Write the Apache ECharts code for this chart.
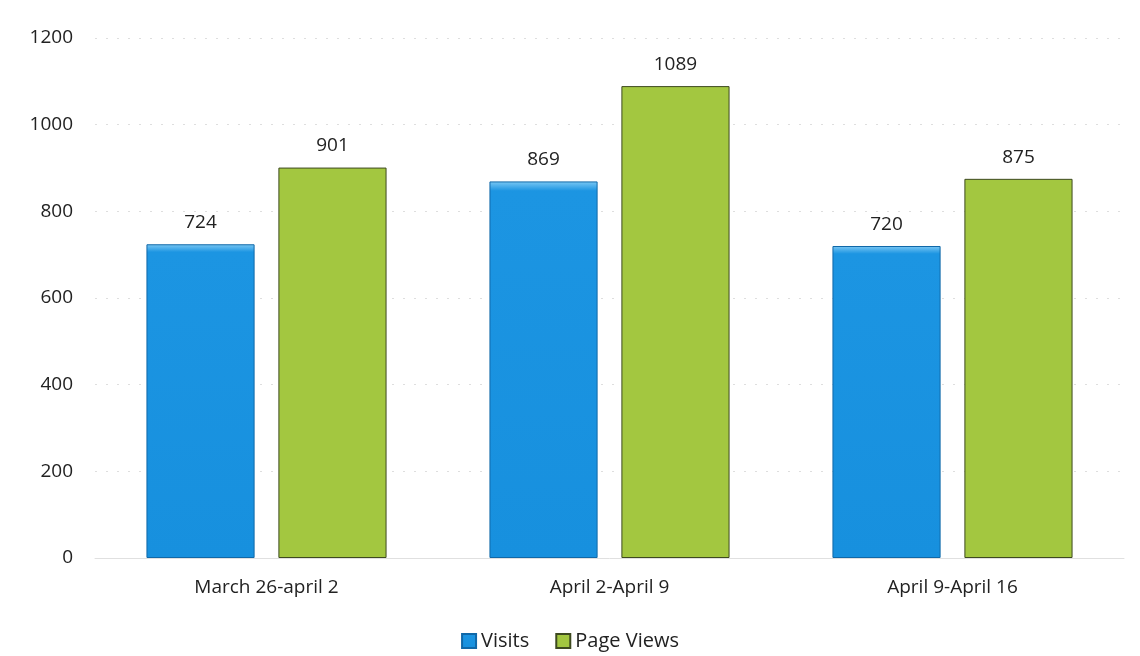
<!DOCTYPE html>
<html>
<head>
<meta charset="utf-8">
<script src="https://cdn.jsdelivr.net/npm/echarts@6/dist/echarts.min.js"></script>
<style>
  html, body { margin: 0; padding: 0; background: #fff; }
  #chart { width: 1140px; height: 656px; }
</style>
</head>
<body>
<div id="chart"></div>
<script>
// 数据
const categories = ["March 26-april 2", "April 2-April 9", "April 9-April 16"];
const visits = [724, 869, 720];
const pageViews = [901, 1089, 875];
const seriesNames = ["Visits", "Page Views"];

const font = "'Open Sans', 'Noto Sans', sans-serif";

const chart = echarts.init(document.getElementById("chart"));

const options = {
  animation: false,
  textStyle: { fontFamily: font },
  grid: {
    top: 38,
    left: 95,
    right: 16,
    bottom: 98,
  },
  legend: {
    bottom: 0,
    left: "center",
    data: seriesNames,
    itemWidth: 14,
    itemHeight: 14,
    itemGap: 26,
    icon: "rect",
    textStyle: { fontSize: 20, color: "#222", fontFamily: font },
  },
  xAxis: {
    type: "category",
    data: categories,
    axisTick: { show: false },
    axisLine: { lineStyle: { color: "#e0e0e0" } },
    axisLabel: { fontSize: 19, color: "#222", margin: 20 },
  },
  yAxis: {
    type: "value",
    min: 0,
    max: 1200,
    interval: 200,
    axisLabel: {
      fontSize: 19,
      color: "#222",
      margin: 22,
      formatter: (v) => String(v), // 不加千分位
    },
    splitLine: {
      lineStyle: { color: "#dedede", type: [2, 9] },
    },
  },
  series: [
    {
      name: seriesNames[0],
      type: "bar",
      data: visits,
      barGap: "22%",
      barCategoryGap: "30%",
      itemStyle: {
        color: new echarts.graphic.LinearGradient(0, 0, 0, 1, [
          { offset: 0, color: "#7cc8f4" },
          { offset: 0.025, color: "#1c95e2" },
          { offset: 1, color: "#1790de" },
        ]),
        borderColor: "#1068a8",
        borderWidth: 1,
      },
      label: {
        show: true,
        position: "top",
        distance: 12,
        fontSize: 19,
        color: "#222",
      },
    },
    {
      name: seriesNames[1],
      type: "bar",
      data: pageViews,
      itemStyle: {
        color: "#a3c740",
        borderColor: "#3e4a20",
        borderWidth: 1,
      },
      label: {
        show: true,
        position: "top",
        distance: 12,
        fontSize: 19,
        color: "#222",
      },
    },
  ],
};

chart.setOption(options);

window.addEventListener("resize", () => {
  chart.resize();
});
</script>
</body>
</html>
